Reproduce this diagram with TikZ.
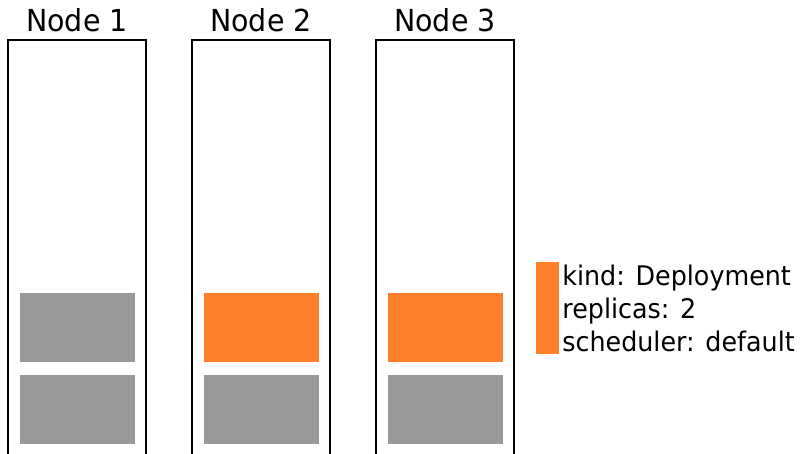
\documentclass[tikz,border=0pt]{standalone}
\usepackage{fontspec}
\setmainfont[FakeStretch=0.94]{DejaVu Sans}
\usetikzlibrary{positioning}
\definecolor{podorange}{HTML}{FF7F2A}
\definecolor{podgray}{HTML}{999999}
\tikzset{node distance=44pt,
machine/.style={
draw,
line width=2pt,
minimum width=138pt,
minimum height=420pt,
inner sep=0pt},
pod/.style={
minimum width=115pt,
minimum height=69pt,
inner sep=0pt},
title/.style={
font=\fontsize{30.3}{36}\selectfont,
inner sep=0pt,
anchor=base}}

\begin{document}
\begin{tikzpicture}
\path[use as bounding box, clip] (0,0) rectangle (801pt,-453pt);
\node[machine] (n1) at (77pt,-250pt) {};
\node[machine, right=of n1] (n2) {};
\node[machine, right=of n2] (n3) {};
\node[title] (t1) at ([yshift=8pt]n1.north) {Node 1};
\node[title] (t2) at ([yshift=8pt]n2.north) {Node 2};
\node[title] (t3) at ([yshift=8pt]n3.north) {Node 3};
\node[pod, fill=podgray, above=17pt of n1.south] (p1b) {};
\node[pod, fill=podgray, above=12pt of p1b] (p1a) {};
\node[pod, fill=podgray, above=17pt of n2.south] (p2b) {};
\node[pod, fill=podorange, above=12pt of p2b] (p2a) {};
\node[pod, fill=podgray, above=17pt of n3.south] (p3b) {};
\node[pod, fill=podorange, above=12pt of p3b] (p3a) {};
% legend
\node[pod, fill=podorange, minimum width=23pt, minimum height=92pt] (leg) at (547.5pt,-308pt) {};
\node[right=3pt of leg, align=left, inner sep=0pt, font=\fontsize{27}{33}\selectfont] (legtext) {kind: Deployment\\replicas: 2\\scheduler: default};
\end{tikzpicture}
\end{document}
